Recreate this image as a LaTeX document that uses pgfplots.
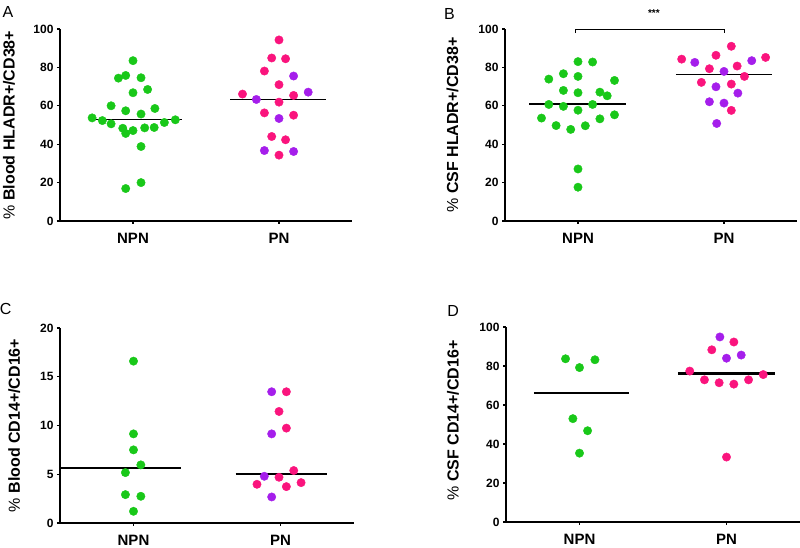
\documentclass[border=0pt]{standalone}
\usepackage{pgfplots}
\pgfplotsset{compat=1.18}
\usepackage{fontspec}
\setmainfont{Liberation Sans}
\definecolor{grn}{RGB}{25,200,25}
\definecolor{pnk}{RGB}{250,20,125}
\definecolor{prp}{RGB}{165,30,235}

\pgfplotsset{
  panel/.style={
    scale only axis,
    axis lines*=left,
    axis line style={-, line width=1.6pt},
    xmin=0.5, xmax=2.5, ymin=0,
    xtick={1,2}, xticklabels={NPN,PN},
    tick align=outside, major tick length=3pt,
    tick style={line width=1.2pt, black},
    clip=false,
    /pgf/number format/assume math mode=true,
    yticklabel style={font=\bfseries\fontsize{12}{14}\selectfont},
    xticklabel style={font=\bfseries\fontsize{15}{17}\selectfont, yshift=-6pt},
    ylabel style={font=\bfseries\fontsize{16}{18}\selectfont, anchor=center},
  },
  dots/.style={only marks, mark=*, mark size=4.2pt, mark options={draw=#1, fill=#1}},
}

\begin{document}
\begin{tikzpicture}
\path[use as bounding box] (0pt,0pt) rectangle (800pt,548pt);

% A
\begin{axis}[panel, at={(60pt,327pt)}, anchor=south west,
  width=292pt, height=192pt, ymax=100, ytick={0,20,...,100},
  ylabel={\mdseries\%\ \bfseries Blood HLADR+/CD38+},
  ylabel style={at={(axis description cs:-0.175,0.5)}}]
\addplot[dots=grn] coordinates {(1.00,83.5)(0.90,74.4)(0.95,75.8)(1.055,74.6)(1.00,66.8)(1.10,68.5)(0.85,60.0)(0.95,57.4)(1.055,55.7)(1.15,58.6)(0.72,53.7)(0.79,52.3)(0.85,50.6)(0.93,48.3)(0.95,45.6)(1.00,47.1)(1.08,48.5)(1.145,48.7)(1.215,51.3)(1.29,52.7)(1.055,38.8)(0.95,16.9)(1.055,20.0)};
\addplot[dots=pnk] coordinates {(2.00,94.3)(1.95,84.9)(2.045,84.5)(1.90,78.1)(2.00,71.0)(1.75,66.1)(2.10,65.4)(2.00,61.9)(1.90,56.3)(2.10,55.1)(1.95,44.0)(2.045,42.3)(2.00,34.3)};
\addplot[dots=prp] coordinates {(2.10,75.5)(1.845,63.3)(2.20,67.1)(2.00,53.4)(1.90,36.7)(2.10,36.2)};
\addplot[black, line width=1.2pt] coordinates {(0.70,52.9)(1.335,52.9)};
\addplot[black, line width=1.2pt] coordinates {(1.665,63.1)(2.325,63.1)};
\node[font=\fontsize{16}{18}\selectfont] at (axis description cs:-0.178,1.09) {A};
\end{axis}

% B
\begin{axis}[panel, at={(505pt,327pt)}, anchor=south west,
  width=292pt, height=192pt, ymax=100, ytick={0,20,...,100},
  ylabel={\mdseries\%\ \bfseries CSF HLADR+/CD38+},
  ylabel style={at={(axis description cs:-0.18,0.5)}}]
\addplot[dots=grn] coordinates {(0.80,73.9)(0.90,76.7)(1.00,75.3)(1.00,83.0)(1.10,82.8)(1.25,73.2)(0.90,68.0)(1.00,66.8)(1.15,67.1)(1.20,65.2)(0.80,60.7)(0.90,59.7)(1.00,57.7)(1.10,60.7)(0.75,53.6)(0.85,49.7)(0.95,47.7)(1.05,49.6)(1.15,53.2)(1.25,55.3)(1.00,27.1)(1.00,17.6)};
\addplot[dots=pnk] coordinates {(1.71,84.3)(1.945,86.3)(2.05,91.0)(1.90,79.3)(2.09,80.7)(2.285,85.2)(1.845,72.2)(2.05,71.3)(2.14,75.3)(2.05,57.6)};
\addplot[dots=prp] coordinates {(1.80,82.6)(2.00,77.9)(2.19,83.5)(1.945,69.9)(2.095,66.6)(1.90,62.1)(2.00,61.4)(1.95,50.8)};
\addplot[black, line width=1.2pt] coordinates {(0.667,60.9)(1.33,60.9)};
\addplot[black, line width=1.2pt] coordinates {(1.67,76.5)(2.33,76.5)};
\addplot[black, line width=0.9pt] coordinates {(0.98,97.8)(0.98,99.8)(2.0,99.8)(2.0,97.8)};
\node[font=\bfseries\fontsize{10}{12}\selectfont] at (axis cs:1.52,108.5) {***};
\node[font=\fontsize{16}{18}\selectfont] at (axis description cs:-0.19,1.08) {B};
\end{axis}

% C
\begin{axis}[panel, at={(60pt,25pt)}, anchor=south west,
  width=294pt, height=195pt, ymax=20, ytick={0,5,...,20},
  ylabel={\mdseries\%\ \bfseries Blood CD14+/CD16+},
  ylabel style={at={(axis description cs:-0.156,0.5)}}]
\addplot[dots=grn] coordinates {(1.00,16.6)(1.00,9.14)(1.00,7.5)(1.05,5.96)(0.945,5.17)(0.945,2.91)(1.05,2.74)(1.00,1.2)};
\addplot[dots=pnk] coordinates {(2.04,13.46)(1.99,11.44)(2.04,9.73)(2.09,5.38)(1.99,4.69)(1.84,3.97)(2.04,3.73)(2.14,4.14)};
\addplot[dots=prp] coordinates {(1.94,13.46)(1.94,9.14)(1.89,4.79)(1.94,2.67)};
\addplot[black, line width=2.2pt] coordinates {(0.50,5.6)(1.32,5.6)};
\addplot[black, line width=2.2pt] coordinates {(1.695,5.03)(2.315,5.03)};
\node[font=\fontsize{16}{18}\selectfont] at (axis description cs:-0.185,1.1) {C};
\end{axis}

% D
\begin{axis}[panel, at={(506pt,26pt)}, anchor=south west,
  width=294pt, height=195pt, ymax=100, ytick={0,20,...,100},
  ylabel={\mdseries\%\ \bfseries CSF CD14+/CD16+},
  ylabel style={at={(axis description cs:-0.18,0.52)}}]
\addplot[dots=grn] coordinates {(0.905,83.7)(1.105,83.2)(1.00,79.2)(0.955,53.0)(1.055,46.8)(1.00,35.3)};
\addplot[dots=pnk] coordinates {(2.05,92.3)(1.90,88.3)(1.75,77.4)(1.85,72.9)(1.95,71.4)(2.05,70.7)(2.15,72.9)(2.25,75.6)(2.00,33.3)};
\addplot[dots=prp] coordinates {(1.955,94.9)(2.00,84.0)(2.10,85.6)};
\addplot[black, line width=2.2pt] coordinates {(0.69,66.2)(1.34,66.2)};
\addplot[black, line width=2.2pt] coordinates {(1.67,76.2)(2.33,76.2)};
\node[font=\fontsize{16}{18}\selectfont] at (axis description cs:-0.18,1.08) {D};
\end{axis}
\end{tikzpicture}
\end{document}
